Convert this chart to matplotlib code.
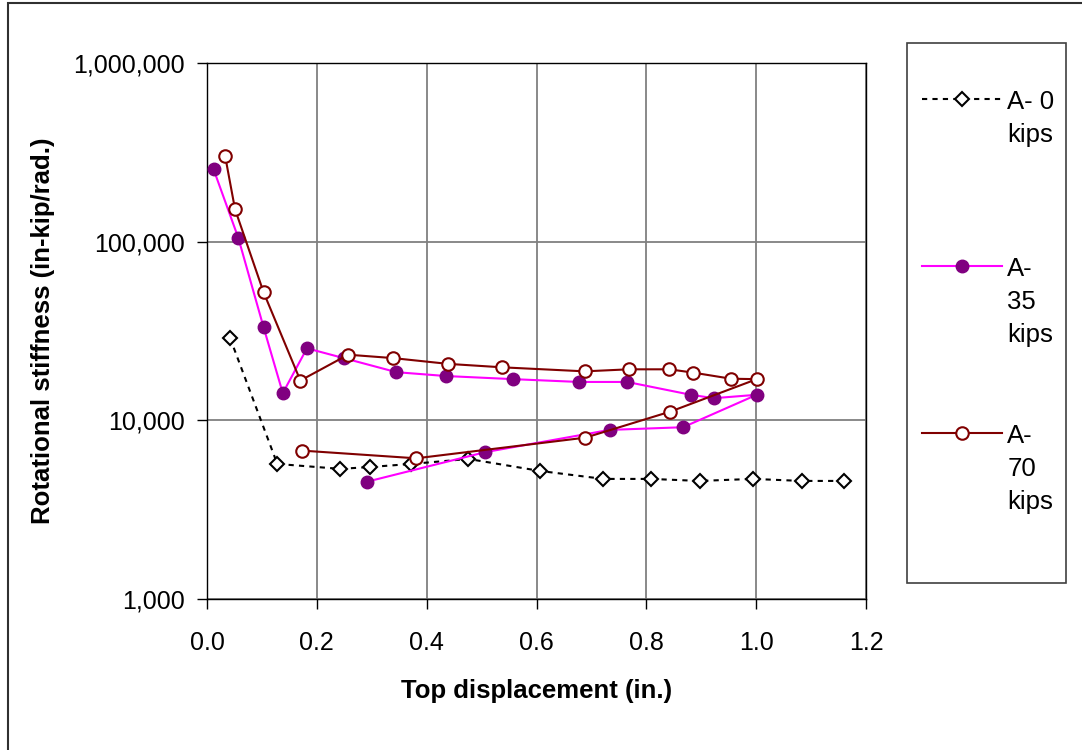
import matplotlib
matplotlib.use("Agg")
import matplotlib.pyplot as plt
from matplotlib.ticker import FixedLocator, FuncFormatter, NullLocator
from matplotlib.patches import Rectangle

# data
a0_x = [0.042, 0.128, 0.243, 0.297, 0.372, 0.476, 0.606, 0.722, 0.808, 0.897, 0.994, 1.083, 1.160]
a0_y = [28900, 5700, 5350, 5480, 5700, 6080, 5210, 4700, 4700, 4580, 4700, 4580, 4580]

a35_x = [0.012, 0.057, 0.103, 0.138, 0.182, 0.249, 0.345, 0.435, 0.558, 0.677, 0.765,
         0.881, 0.923, 1.001, 0.867, 0.733, 0.506, 0.292]
a35_y = [254000, 105000, 33200, 14200, 25300, 22300, 18600, 17700, 17000, 16400, 16400,
         13900, 13300, 13900, 9150, 8840, 6630, 4540]

a70_x = [0.033, 0.051, 0.103, 0.170, 0.257, 0.339, 0.439, 0.538, 0.688, 0.768, 0.842,
         0.885, 0.954, 1.001, 0.844, 0.689, 0.381, 0.173]
a70_y = [302000, 152000, 52100, 16700, 23300, 22300, 20700, 19800, 18800, 19300, 19300,
         18500, 17100, 17000, 11200, 8000, 6130, 6770]

# trailing blank line on the first label gives the extra room seen in the reference legend
series_labels = ["A- 0\nkips\n", "A-\n35\nkips", "A-\n70\nkips"]
x_ticks = [0.0, 0.2, 0.4, 0.6, 0.8, 1.0, 1.2]
y_ticks = [1000, 10000, 100000, 1000000]

plt.rcParams['font.family'] = ['Liberation Sans', 'DejaVu Sans']

fig = plt.figure(figsize=(10.82, 7.5), dpi=100)
ax = fig.add_axes([207/1082, 1-599/750, 659/1082, 536/750])

l0, = ax.plot(a0_x, a0_y, color='black', lw=1.5, linestyle=(0, (2.5, 2.5)),
              marker='D', ms=7.3, mfc='white', mec='black', mew=1.5, zorder=3)
l35, = ax.plot(a35_x, a35_y, color='#ff00ff', lw=1.5,
               marker='o', ms=9, mfc='#800080', mec='#800080', zorder=4)
l70, = ax.plot(a70_x, a70_y, color='#800000', lw=1.5,
               marker='o', ms=9, mfc='white', mec='#800000', mew=1.5, zorder=5)

ax.set_yscale('log')
ax.set_xlim(0, 1.2)
ax.set_ylim(1000, 1000000)
ax.xaxis.set_major_locator(FixedLocator(x_ticks))
ax.yaxis.set_major_locator(FixedLocator(y_ticks))
ax.yaxis.set_minor_locator(NullLocator())
ax.xaxis.set_major_formatter(FuncFormatter(lambda v, p: "%.1f" % v))
ax.yaxis.set_major_formatter(FuncFormatter(lambda v, p: "{:,.0f}".format(v)))
ax.tick_params(axis='both', direction='out', length=7, width=1, labelsize=18)
ax.tick_params(axis='y', pad=9)
ax.tick_params(axis='x', pad=16)
ax.grid(True, color='#808080', lw=1.3)
ax.set_axisbelow(True)
for s in ax.spines.values():
    s.set_color('black')
    s.set_linewidth(1)

ax.set_xlabel('Top displacement (in.)', fontsize=18.5, fontweight='bold', labelpad=17)
ax.set_ylabel('Rotational stiffness (in-kip/rad.)', fontsize=18.5, fontweight='bold', labelpad=13)

# legend box and entries
fig.patches.append(Rectangle((907/1082, 1-583/750), 159/1082, 540/750, transform=fig.transFigure,
                             fill=False, edgecolor='#404040', lw=1.2))
leg = fig.legend([l0, l35, l70], series_labels, loc='upper left',
                 bbox_to_anchor=(922/1082, 1-90/750), frameon=False, fontsize=18.5,
                 handlelength=3.1, handletextpad=0.22, labelspacing=3.0,
                 borderpad=0, borderaxespad=0)
for t in leg.get_texts():
    t.set_linespacing(1.47)
for col in leg._legend_handle_box.get_children():
    for row in col.get_children():
        row.align = "top"

# outer frame of the picture
fig.patches.append(Rectangle((8/1082, -0.1), 1.2, 1.1-3/750, transform=fig.transFigure,
                             fill=False, edgecolor='#303030', lw=1.5))

fig.savefig('out.png', dpi=100)
